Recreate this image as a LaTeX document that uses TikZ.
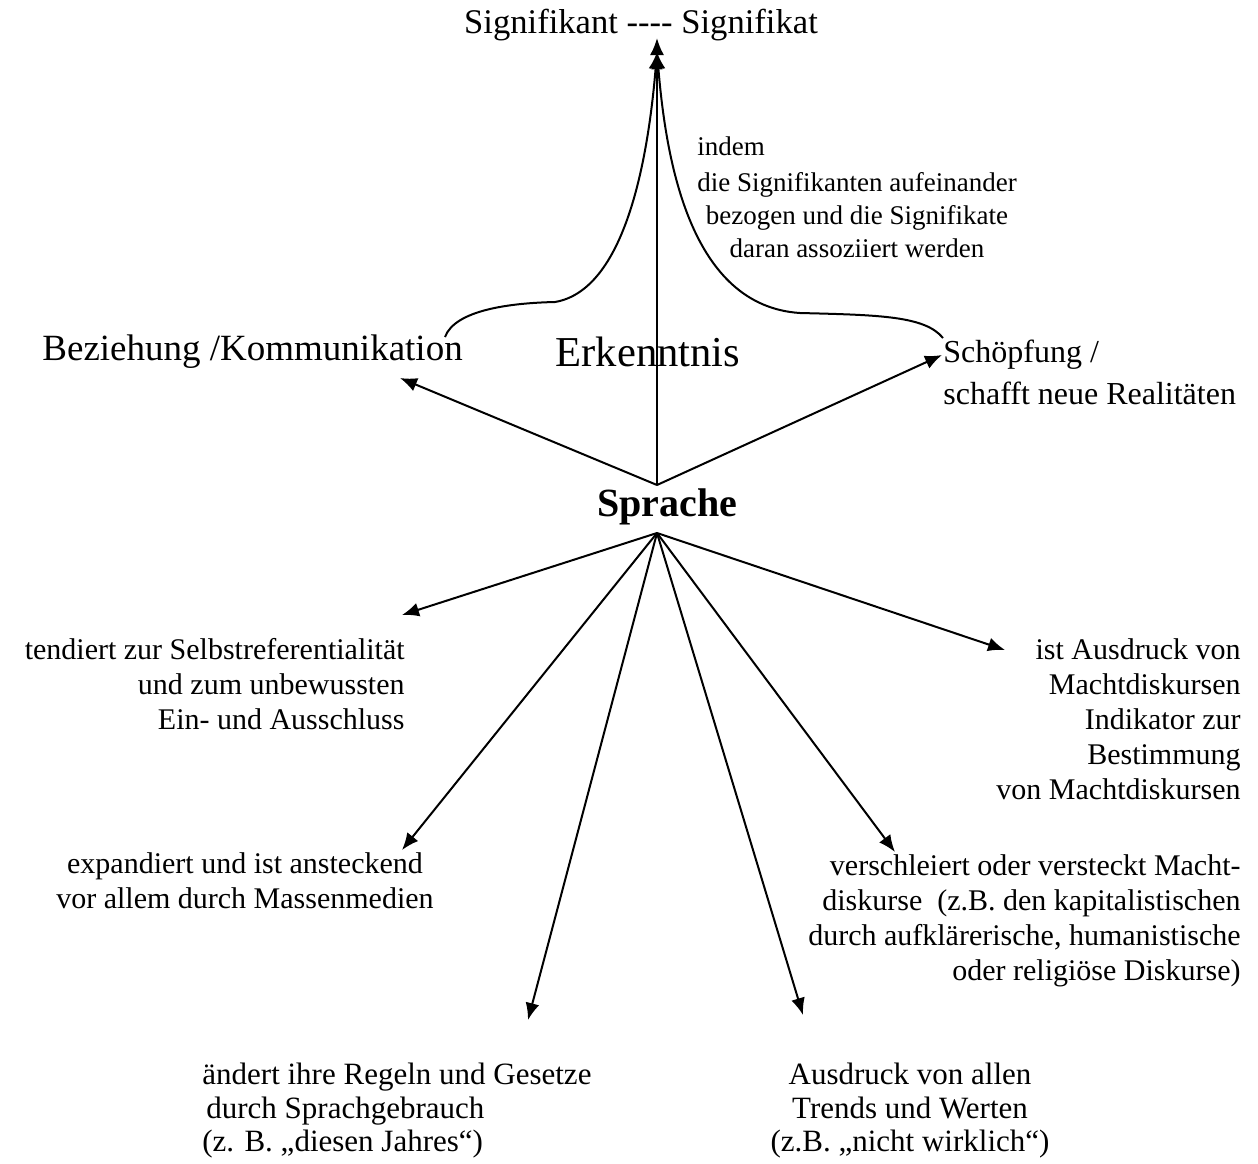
\documentclass[tikz,border=0pt]{standalone}
\usepackage{fontspec}
\setmainfont{Liberation Serif}
\usetikzlibrary{arrows.meta}

\begin{document}
\begin{tikzpicture}[x=0.5pt, y=-0.5pt, >={Latex[length=8.5pt,width=7pt]},
	pfeil/.style={line width=1pt, ->},
	klein/.style={inner sep=0pt, font=\fontsize{15}{17.5}\selectfont},
	unten/.style={inner sep=0pt, font=\fontsize{15.5}{16.7}\selectfont},
	gross/.style={inner sep=0pt, font=\fontsize{16}{21}\selectfont}]
	\useasboundingbox (0,0) rectangle (1258,1163);

	% oben
	\node[inner sep=0pt, font=\fontsize{17.3}{20}\selectfont] (sig) at (641,25) {Signifikant {-}{-}{-}{-} Signifikat};
	\node[inner sep=0pt, font=\fontsize{18.5}{22}\selectfont, anchor=west] (bez) at (42,352) {Beziehung /Kommunikation};
	\node[inner sep=0pt, font=\fontsize{21.3}{25}\selectfont] (erk) at (648,352) {Erkenntnis};
	\node[gross, anchor=north west, align=left] (sch) at (943,340) {Schöpfung /\\schafft neue Realitäten};
	\node[inner sep=0pt, font=\fontsize{13.5}{16.5}\selectfont, anchor=north west] (indem) at (697,136) {indem};
	\node[inner sep=0pt, font=\fontsize{13.5}{16.5}\selectfont, anchor=north, align=center] (assoz) at (857,172) {die Signifikanten aufeinander\\bezogen und die Signifikate\\daran assoziiert werden};

	% Mitte
	\node[inner sep=0pt, font=\bfseries\fontsize{20}{24}\selectfont] (spr) at (667,507) {Sprache};
	\coordinate (sprO) at (657,485);
	\coordinate (sprU) at (657,533);

	% unten
	\node[klein, anchor=north east, align=right] (tend) at (405,638) {tendiert zur Selbstreferentialität\\und zum unbewussten\\Ein- und Ausschluss};
	\node[klein, anchor=north east, align=right] (ist) at (1241,638) {ist Ausdruck von\\Machtdiskursen\\Indikator zur\\Bestimmung\\von Machtdiskursen};
	\node[klein, anchor=north, align=center] (exp) at (245,852) {expandiert und ist ansteckend\\vor allem durch Massenmedien};
	\node[klein, anchor=north east, align=right] (ver) at (1241,854) {verschleiert oder versteckt Macht-\\diskurse\ \ (z.B. den kapitalistischen\\durch aufklärerische, humanistische\\oder religiöse Diskurse)};
	\node[unten, anchor=north west, align=left] (aend) at (202,1063) {ändert ihre Regeln und Gesetze\\\hspace{2pt}durch Sprachgebrauch\\(z. B. „diesen Jahres“)};
	\node[unten, anchor=north, align=center] (ausd) at (910,1063) {Ausdruck von allen\\Trends und Werten\\(z.B. „nicht wirklich“)};

	% Pfeilspitzen
	\coordinate (zSig) at (657,38);
	\coordinate (zKurve) at (657,52);
	\coordinate (zBez) at (400,378);
	\coordinate (zSch) at (942,355);
	\coordinate (zTend) at (402,615);
	\coordinate (zExp) at (402,850);
	\coordinate (zAend) at (528,1020);
	\coordinate (zAusd) at (803,1015);
	\coordinate (zVer) at (895,852);
	\coordinate (zIst) at (1005,650);

	\draw[pfeil] (sprO) -- (zSig);
	\draw[pfeil] (sprO) -- (zBez);
	\draw[pfeil] (sprO) -- (zSch);
	\foreach \z in {zTend, zExp, zAend, zAusd, zVer, zIst}
		\draw[pfeil] (sprU) -- (\z);

	% Klammern
	\coordinate (lA) at (445,337);
	\coordinate (lM) at (555,302);
	\coordinate (rA) at (943,338);
	\coordinate (rM) at (800,313);
	\draw[pfeil] (lA) .. controls (455,310) and (510,303) .. (lM) .. controls (625,290) and (648,160) .. (zKurve);
	\draw[pfeil] (rA) .. controls (925,316) and (880,315) .. (rM) .. controls (690,306) and (666,160) .. (zKurve);
\end{tikzpicture}
\end{document}
